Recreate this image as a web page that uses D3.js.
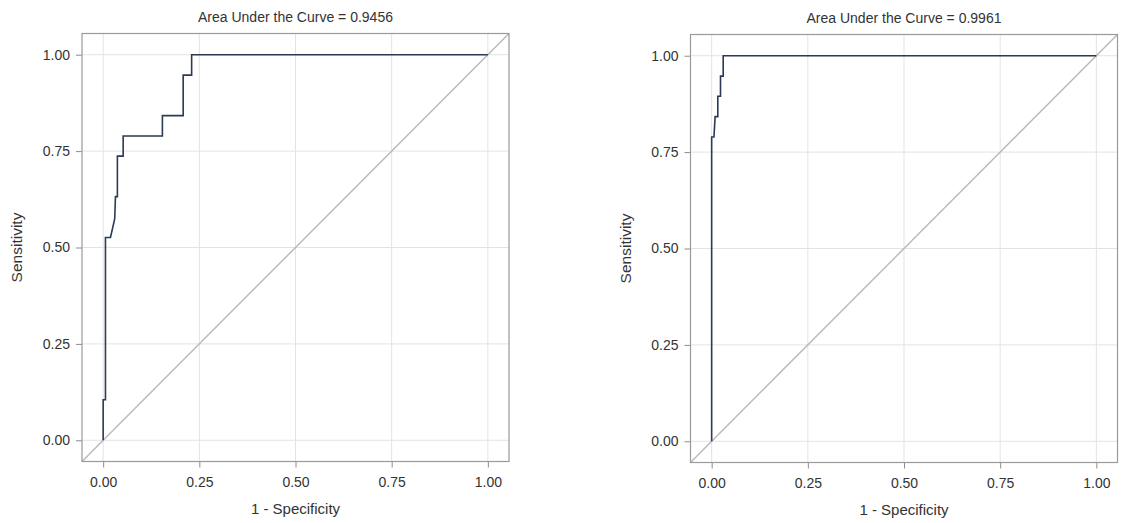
<!DOCTYPE html>
<html>
<head>
<meta charset="utf-8">
<script src="https://cdn.jsdelivr.net/npm/d3@7"></script>
<style>
    body { margin: 0; background: #ffffff; }
    svg { display: block; font-family: "Liberation Sans", Arial, sans-serif; }
</style>
</head>
<body>
<svg id="chart" width="1121" height="523"></svg>
<script>
// ROC points (1 - specificity, sensitivity)
const leftFpr = [0, 0, 0.006, 0.006, 0.019, 0.030, 0.032, 0.037, 0.037, 0.052, 0.052, 0.154, 0.154, 0.208, 0.208, 0.230, 0.230, 1];
const leftTpr = [0, 0.105, 0.105, 0.526, 0.526, 0.574, 0.632, 0.632, 0.737, 0.737, 0.789, 0.789, 0.842, 0.842, 0.947, 0.947, 1, 1];

const rightFpr = [0, 0, 0.006, 0.009, 0.016, 0.016, 0.023, 0.023, 0.030, 0.030, 1];
const rightTpr = [0, 0.789, 0.789, 0.842, 0.842, 0.895, 0.895, 0.947, 0.947, 1, 1];

const tickValues = [0, 0.25, 0.5, 0.75, 1];
const leftTitle = "Area Under the Curve = 0.9456";
const rightTitle = "Area Under the Curve = 0.9961";
const xTitle = "1 - Specificity";
const yTitle = "Sensitivity";

const plotW = 427;
const plotH = 428;

function drawPanel(left, top, fpr, tpr, title) {
    const svg = d3.select("#chart");
    const g = svg.append("g").attr("transform", `translate(${left},${top})`);

    const x = d3.scaleLinear().domain([-0.055, 1.055]).range([0, plotW]);
    const y = d3.scaleLinear().domain([-0.055, 1.055]).range([plotH, 0]);

    // grid
    g.append("g")
        .selectAll("line")
        .data(tickValues)
        .enter().append("line")
        .attr("x1", d => x(d)).attr("x2", d => x(d))
        .attr("y1", 0).attr("y2", plotH)
        .attr("stroke", "#e3e3e3");

    g.append("g")
        .selectAll("line")
        .data(tickValues)
        .enter().append("line")
        .attr("x1", 0).attr("x2", plotW)
        .attr("y1", d => y(d)).attr("y2", d => y(d))
        .attr("stroke", "#e3e3e3");

    // diagonal reference
    g.append("line")
        .attr("x1", x(-0.055)).attr("y1", y(-0.055))
        .attr("x2", x(1.055)).attr("y2", y(1.055))
        .attr("stroke", "#b8b8b8")
        .attr("stroke-width", 1.4);

    // roc curve
    const pts = fpr.map((v, i) => [v, tpr[i]]);
    g.append("path")
        .datum(pts)
        .attr("fill", "none")
        .attr("stroke", "#2b3a55")
        .attr("stroke-width", 1.6)
        .attr("d", d3.line().x(d => x(d[0])).y(d => y(d[1])));

    // axes
    const xAxis = g.append("g")
        .attr("transform", `translate(0,${plotH})`)
        .call(d3.axisBottom(x).tickValues(tickValues).tickFormat(d3.format(".2f")).tickSize(6).tickPadding(10));
    const yAxis = g.append("g")
        .call(d3.axisLeft(y).tickValues(tickValues).tickFormat(d3.format(".2f")).tickSize(6).tickPadding(6));

    [xAxis, yAxis].forEach(a => {
        a.select(".domain").remove();
        a.selectAll("line").attr("stroke", "#8c8c8c");
        a.selectAll("text").attr("fill", "#333").attr("font-size", "14px");
    });

    // frame
    g.append("rect")
        .attr("x", 0).attr("y", 0)
        .attr("width", plotW).attr("height", plotH)
        .attr("fill", "none")
        .attr("stroke", "#9a9a9a")
        .attr("stroke-width", 1.2);

    g.append("text")
        .attr("x", plotW / 2).attr("y", -12)
        .attr("text-anchor", "middle")
        .attr("font-size", "14px")
        .attr("fill", "#333")
        .text(title);

    g.append("text")
        .attr("x", plotW / 2).attr("y", plotH + 52)
        .attr("text-anchor", "middle")
        .attr("font-size", "15px")
        .attr("fill", "#333")
        .text(xTitle);

    g.append("text")
        .attr("transform", `translate(-60,${plotH / 2}) rotate(-90)`)
        .attr("text-anchor", "middle")
        .attr("font-size", "15.5px")
        .attr("fill", "#333")
        .text(yTitle);
}

drawPanel(82, 33.5, leftFpr, leftTpr, leftTitle);
drawPanel(690.5, 34.5, rightFpr, rightTpr, rightTitle);
</script>
</body>
</html>
